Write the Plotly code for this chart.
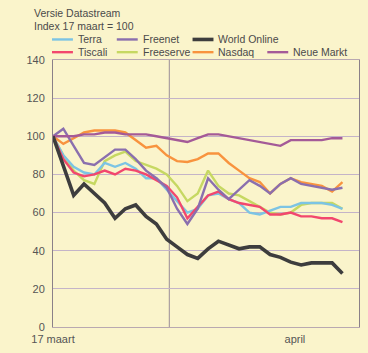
import plotly.graph_objects as go

# Trading-day index since 17 maart
days = list(range(29))

terra =      [100, 90, 84, 81, 80, 86, 84, 86, 83, 78, 78, 72, 66, 60, 62, 69, 70, 67, 65, 60, 59, 61, 63, 63, 65, 65, 65, 64, 62]
freenet =    [100, 104, 95, 86, 85, 89, 93, 93, 88, 82, 78, 73, 62, 54, 62, 78, 72, 67, 72, 77, 74, 70, 75, 78, 75, 74, 73, 72, 73]
world_online=[100, 84, 69, 75, 70, 65, 57, 62, 64, 58, 54, 46, 42, 38, 36, 41, 45, 43, 41, 42, 42, 38, 36.5, 34, 32.5, 33.6, 33.6, 33.6, 28]
tiscali =    [100, 88, 81, 79, 80, 82, 80, 83, 82, 80, 77, 74, 68, 57, 63, 69, 71, 67, 65, 64, 63, 59, 59, 60, 58, 58, 57, 57, 55]
freeserve =  [100, 90, 82, 77, 75, 87, 90, 92, 87, 85, 83, 80, 74, 66, 70, 82, 74, 70, 69, 66, 63, 60, 59, 60, 64, 65, 65, 65, 62]
nasdaq =     [100, 96, 99, 102, 103, 103, 103, 102, 98, 94, 95, 90, 87, 86.5, 88, 91, 91, 86, 82, 78, 76, 70, 75, 78, 76, 75, 74, 71, 76]
neue_markt = [100, 100, 100, 101, 101, 102, 102, 101, 101, 101, 100, 99, 98, 97, 99, 101, 101, 100, 99, 98, 97, 96, 95, 98, 98, 98, 98, 99, 99]

x_tick_vals = [0, 23.4]
x_tick_text = ["17 maart", "april"]
month_boundary = 11.25
y_tick_vals = [0, 20, 40, 60, 80, 100, 120, 140]

# name, values, colour, width, legend (row, column)
series = [
    ("Terra", terra, "#7cc4e4", 2.4, (0, 0)),
    ("Freenet", freenet, "#8a6fae", 2.4, (0, 1)),
    ("World Online", world_online, "#3d3d3d", 3.6, (0, 2)),
    ("Tiscali", tiscali, "#f2476e", 2.4, (1, 0)),
    ("Freeserve", freeserve, "#c6d862", 2.4, (1, 1)),
    ("Nasdaq", nasdaq, "#f8933e", 2.4, (1, 2)),
    ("Neue Markt", neue_markt, "#a45a98", 2.4, (1, 3)),
]

# draw order: lighter lines first, so World Online & Neue Markt stay on top
draw_order = ["Freeserve", "Terra", "Tiscali", "Nasdaq", "Freenet", "Neue Markt", "World Online"]

fig = go.Figure()
lookup = {s[0]: s for s in series}
for name in draw_order:
    n, vals, col, w, _pos = lookup[name]
    fig.add_trace(go.Scatter(
        x=days, y=vals, mode="lines", name=n,
        line=dict(color=col, width=w), showlegend=False,
    ))

bg = "#faf4cb"
font_family = "Liberation Sans, Arial, sans-serif"
txt_col = "#4a4a4a"

# plot area geometry (pixels) for placing the key above the chart
W, H = 368, 353
ML, MR, MT, MB = 53, 8, 60, 20
PW, PH = W - ML - MR, H - MT - MB


def px_x(p):
    return (p - ML) / PW


def px_y(p):
    return (H - MB - p) / PH


key_line_x = [52, 117, 193, 268]
key_row_y = [39, 52]

shapes = [dict(type="line", xref="x", yref="paper", x0=month_boundary, x1=month_boundary,
               y0=0, y1=1, line=dict(color="#9a8e98", width=1), layer="below")]
annotations = [
    dict(text="Versie Datastream", xref="paper", yref="paper", x=px_x(32), y=px_y(12),
         xanchor="left", yanchor="middle", showarrow=False,
         font=dict(size=10.5, color=txt_col, family=font_family)),
    dict(text="Index 17 maart = 100", xref="paper", yref="paper", x=px_x(32), y=px_y(25),
         xanchor="left", yanchor="middle", showarrow=False,
         font=dict(size=10.5, color=txt_col, family=font_family)),
]
for n, vals, col, w, (r, c) in series:
    x0 = key_line_x[c]
    yy = key_row_y[r]
    shapes.append(dict(type="line", xref="paper", yref="paper",
                       x0=px_x(x0), x1=px_x(x0 + 21), y0=px_y(yy), y1=px_y(yy),
                       line=dict(color=col, width=w)))
    annotations.append(dict(text=n, xref="paper", yref="paper", x=px_x(x0 + 24), y=px_y(yy),
                            xanchor="left", yanchor="middle", showarrow=False,
                            font=dict(size=10.5, color=txt_col, family=font_family)))

fig.update_layout(
    width=W, height=H,
    margin=dict(l=ML, r=MR, t=MT, b=MB),
    paper_bgcolor=bg, plot_bgcolor=bg,
    font=dict(family=font_family, color="#555555", size=11),
    showlegend=False,
    xaxis=dict(
        range=[0, 29.6], tickvals=x_tick_vals, ticktext=x_tick_text,
        showgrid=False, zeroline=False, showline=True, linecolor="#b8a8b0",
        linewidth=1, mirror=True, ticks="", ticklabelstandoff=2,
        tickfont=dict(size=11, color="#555555"),
    ),
    yaxis=dict(
        range=[0, 140], tickvals=y_tick_vals, showgrid=True, gridcolor="#c4b4c8",
        gridwidth=1, zeroline=False, showline=True, linecolor="#8a8088",
        linewidth=1, mirror=True, ticks="", ticklabelstandoff=5,
        tickfont=dict(size=11, color="#555555"),
    ),
    shapes=shapes,
    annotations=annotations,
)

fig.write_html("out.html")
